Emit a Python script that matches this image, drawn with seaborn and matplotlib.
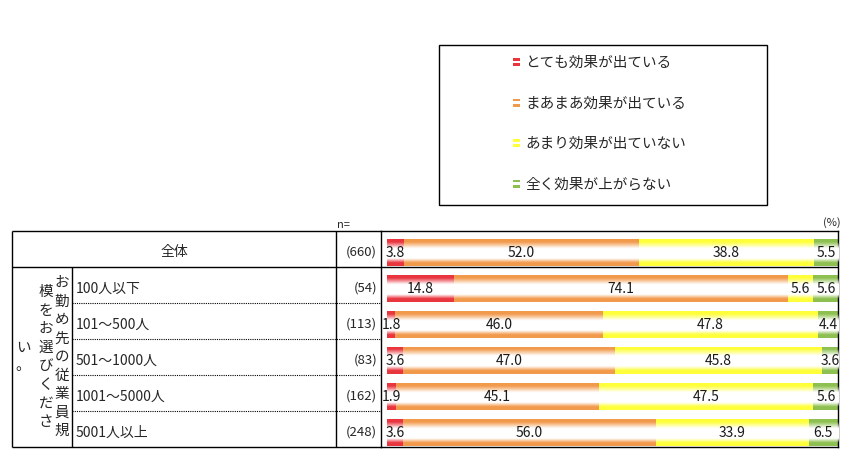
import numpy as np
import pandas as pd
import matplotlib
matplotlib.use("Agg")
import matplotlib.pyplot as plt
import matplotlib.transforms as mtrans
from matplotlib.patches import Patch, Rectangle
from matplotlib.legend_handler import HandlerBase
import seaborn as sns

# ---------------- data ----------------
groups = ["全体", "100人以下", "101～500人", "501～1000人", "1001～5000人", "5001人以上"]
n_labels = ["(660)", "(54)", "(113)", "(83)", "(162)", "(248)"]
series_names = ["とても効果が出ている", "まあまあ効果が出ている", "あまり効果が出ていない", "全く効果が上がらない"]
very = [3.8, 14.8, 1.8, 3.6, 1.9, 3.6]
somewhat = [52.0, 74.1, 46.0, 47.0, 45.1, 56.0]
not_much = [38.8, 5.6, 47.8, 45.8, 47.5, 33.9]
not_at_all = [5.5, 5.6, 4.4, 3.6, 5.6, 6.5]
question = "お勤め先の従業員規模をお選びください。"
question_cols = [9, 8, 2]
colors = ["#E8353E", "#F29A4C", "#FFFF3A", "#8DC050"]

# ---------------- style ----------------
sns.set_style("white")
plt.rcParams['font.family'] = ['Noto Sans CJK JP', 'DejaVu Sans']

W, H = 847, 465
fig = plt.figure(figsize=(W / 100, H / 100), dpi=100)
AX_L, AX_R, AX_T, AX_B = 381, 838, 231, 447
ax = fig.add_axes([AX_L / W, (H - AX_B) / H, (AX_R - AX_L) / W, (AX_B - AX_T) / H])

vals = np.array([very, somewhat, not_much, not_at_all])
cum = np.cumsum(vals, axis=0)
df = pd.DataFrame({"group": groups})
for i in range(4):
    df[f"cum{i}"] = cum[i]

for i in reversed(range(4)):
    sns.barplot(data=df, x=f"cum{i}", y="group", orient="h", color=colors[i],
                saturation=1, width=0.75, edgecolor="none", linewidth=0, ax=ax, zorder=2)

# white gradient overlay (bar shading)
t = np.linspace(0, 1, 60)
alpha = np.interp(t, [0, 0.10, 0.34, 0.72, 0.88, 1], [0, 0, 1, 1, 0, 0])
grad = np.ones((60, 1, 4))
grad[:, 0, 3] = alpha
for p in ax.patches[:len(groups)]:
    y0, h = p.get_y(), p.get_height()
    ax.imshow(grad, extent=(p.get_x(), p.get_x() + p.get_width(), y0 + h, y0),
              aspect="auto", zorder=3, interpolation="bilinear")

ax.set_xlim(-1.33, 100)
ax.set_ylim(5.403, -0.597)
ax.set_xticks([])
ax.set_yticks([])
ax.set_xlabel("")
ax.set_ylabel("")
for s in ax.spines.values():
    s.set_color("black")
    s.set_linewidth(1)

# value labels
left = cum - vals
for i in range(4):
    for k in range(len(groups)):
        ax.text(left[i, k] + vals[i, k] / 2, k + 0.02, f"{vals[i, k]:.1f}",
                ha="center", va="center", fontsize=10, zorder=5, color="#1a1a1a")

# ---------------- table ----------------
def px(x):
    return (x - AX_L) / (AX_R - AX_L)

tr = mtrans.blended_transform_factory(ax.transAxes, ax.transData)
top, mid, bot = -0.597, 0.403, 5.403
lk = dict(color="black", lw=1, transform=tr, clip_on=False, solid_capstyle="butt")
ax.plot([px(12), px(12)], [top, bot], **lk)
ax.plot([px(12), px(AX_L)], [top, top], **lk)
ax.plot([px(12), px(AX_L)], [bot, bot], **lk)
ax.plot([px(12), px(AX_R)], [mid, mid], **lk)
ax.plot([px(72), px(72)], [mid, bot], **lk)
ax.plot([px(336), px(336)], [top, bot], **lk)
for k in range(1, len(groups) - 1):
    ax.plot([px(72), px(AX_L)], [k + 0.403, k + 0.403], color="black", lw=0.8,
            ls=(0, (1, 1)), transform=tr, clip_on=False)

ax.text(px(174), 0, groups[0], ha="center", va="center", fontsize=10, transform=tr)
for k in range(1, len(groups)):
    ax.text(px(76), k, groups[k], ha="left", va="center", fontsize=10, transform=tr)
for k in range(len(groups)):
    ax.text(px(377), k, n_labels[k], ha="right", va="center", fontsize=9.5, transform=tr)

# vertical question text
col_x = [62, 46, 23]
pitch = 18.5 / 36
center = (mid + bot) / 2
pos = 0
for c, n in enumerate(question_cols):
    chars = question[pos:pos + n]
    pos += n
    for j, ch in enumerate(chars):
        ax.text(px(col_x[c]), center + (j - (n - 1) / 2) * pitch, ch, ha="center",
                va="center", fontsize=10.5, transform=tr)

fig.text(337 / W, 1 - 225 / H, "n=", ha="left", va="center", fontsize=8)
fig.text(832 / W, 1 - 223 / H, "(%)", ha="center", va="center", fontsize=8)

# ---------------- legend ----------------
class TwoDash(HandlerBase):
    def create_artists(self, legend, orig_handle, xdescent, ydescent, width, height,
                       fontsize, trans):
        c = orig_handle.get_facecolor()
        r1 = Rectangle((-xdescent, -ydescent + height * 0.05), width, height * 0.3,
                       fc=c, ec="none", transform=trans)
        r2 = Rectangle((-xdescent, -ydescent + height * 0.62), width, height * 0.3,
                       fc=c, ec="none", transform=trans)
        return [r1, r2]

fig.patches.append(Rectangle((439 / W, 1 - 205 / H), (767 - 439) / W, 160 / H,
                             transform=fig.transFigure, fill=False, ec="black", lw=1))
handles = [Patch(facecolor=c, edgecolor="none") for c in colors]
fig.legend(handles, series_names, loc="upper left", bbox_to_anchor=(513 / W, 1 - 56 / H),
           frameon=False, handlelength=0.45, handleheight=0.6, handletextpad=0.4,
           labelspacing=1.82, fontsize=10.5, borderaxespad=0, borderpad=0,
           handler_map={Patch: TwoDash()})

fig.savefig("out.png", dpi=100)
